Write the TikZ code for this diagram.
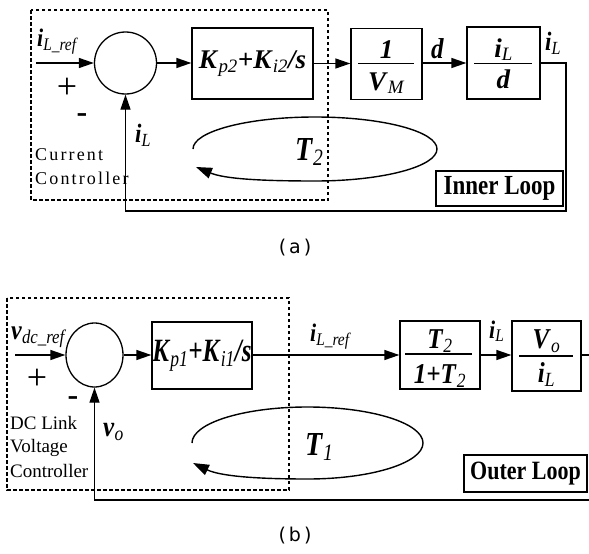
\documentclass[tikz,border=0pt]{standalone}
\usepackage{graphicx}
\usepackage{fontspec}
\setmainfont{Liberation Serif}
\newfontfamily\capfont{DejaVu Sans}
\newfontfamily\lsfont[LetterSpace=12]{Liberation Serif}
\usetikzlibrary{arrows.meta,shapes.geometric}

\newcommand\bi[1]{\textbf{\textit{#1}}}
\newcommand\sbt[1]{\textsubscript{\textit{#1}}}
\newcommand\fs[1]{\fontsize{#1}{#1}\selectfont}
\newcommand\vst[2][1.15]{\scalebox{1}[#1]{#2}}

\tikzset{
  blk/.style={draw, line width=1.3pt, inner sep=0pt},
  conn/.style={line width=1.3pt, -{Triangle[length=15pt,width=10pt]}},
  wire/.style={line width=1.3pt},
  loopw/.style={line width=1.4pt, -{Triangle[length=16pt,width=11pt]}},
  ctrl/.style={draw, line width=1.8pt, dash pattern=on 3.5pt off 2.5pt},
  lbl/.style={inner sep=0pt},
  sumc/.style={draw, circle, line width=1.3pt, inner sep=0pt},
  sume/.style={draw, ellipse, line width=1.3pt, inner sep=0pt},
}

\begin{document}
\begin{tikzpicture}[x=1pt,y=-1pt]
\useasboundingbox (0,0) rectangle (589,554);

% ---------------- (a) ----------------
\draw[ctrl] (31,10) rectangle (328,200);
\node[sumc, minimum size=62pt] (s1) at (125.5,63) {};
\coordinate (in1) at (36,63);
\node[blk, minimum width=121pt, minimum height=71pt] (k2) at (252.5,63.5) {};
\node[lbl] (k2t) at (252.5,64) {\fs{27}\bi{K}\sbt{p2}\bi{+K}\sbt{i2}\bi{/s}};
\node[blk, minimum width=71pt, minimum height=71pt] (vm) at (386.5,64) {};
\node[blk, minimum width=73pt, minimum height=72pt] (ild) at (503.5,63) {};
\coordinate (vmbl) at (358,63.5); \coordinate (vmbr) at (414,63.5);
\draw[wire] (vmbl) -- (vmbr);
\node[lbl, anchor=base] (vmn) at (386.5,58) {\fs{27}\bi{1}};
\node[lbl, anchor=base] (vmd) at (386.5,90) {\fs{27}\bi{V}\sbt{M}};
\coordinate (ilbl) at (474,63.5); \coordinate (ilbr) at (532,63.5);
\draw[wire] (ilbl) -- (ilbr);
\node[lbl, anchor=base] (ildn) at (503.5,57) {\fs{27}\bi{i}\sbt{L}};
\node[lbl, anchor=base] (ildd) at (503.5,88) {\fs{27}\bi{d}};

\coordinate (o1) at (566,63);
\coordinate (f1) at (566,211);
\draw[conn] (in1) -- (s1.west);
\draw[conn] (s1.east) -- (k2.west |- s1.east);
\draw[conn] (k2.east) -- (k2.east -| vm.west);
\draw[conn] (vm.east |- ild.east) -- (ild.west);
\draw[conn] (ild.east) -- (o1) -- (f1) -| (s1.south);

\node[lbl, anchor=base west] (iref1) at (37,46) {\fs{22}\vst{\bi{i}\sbt{L\_ref}}};
\node[lbl] (p1) at (67,88) {\fs{36}+};
\node[lbl] (m1) at (82,118) {\fs{32}\textbf{-}};
\node[lbl, anchor=base west] (ifb1) at (135,142) {\fs{23}\vst{\bi{i}\sbt{L}}};
\node[lbl, anchor=base west] (iout1) at (545,50) {\fs{23}\vst{\bi{i}\sbt{L}}};
\node[lbl, anchor=base west] (d1) at (431,58) {\fs{25}\vst{\bi{d}}};
\node[lbl, anchor=base west] (cc1) at (35,160) {\lsfont\fs{18}Current};
\node[lbl, anchor=base west] (cc2) at (35,184) {\lsfont\fs{18}Controller};

\draw[loopw] (193,149) arc[start angle=180, end angle=450, x radius=122, y radius=32]
  .. controls (262,181) and (225,179) .. (196,167);
\node[lbl, anchor=base west] (t2) at (295,160) {\fs{28}\vst[1.2]{\bi{T}\sbt{2}}};
\node[draw, line width=1.3pt, inner sep=0pt, minimum width=127pt, minimum height=35pt] (inner) at (499.5,188.5) {\fs{23}\vst[1.2]{\textbf{Inner Loop}}};

\node[lbl] (capa) at (295,248) {\capfont\fs{19}(\hspace{3pt}a\hspace{3pt})};

% ---------------- (b) ----------------
\draw[ctrl] (7,298) rectangle (289,490);
\node[sume, minimum width=57pt, minimum height=64pt] (s2) at (94.5,355) {};
\coordinate (in2) at (15,355);
\node[blk, minimum width=100pt, minimum height=67pt] (k1) at (202,355.5) {};
\node[lbl] (k1t) at (202,356) {\fs{25}\vst[1.3]{\bi{K}\sbt{p1}\bi{+K}\sbt{i1}\bi{/s}}};
\node[blk, minimum width=80pt, minimum height=68pt] (tb) at (440,355) {};
\node[blk, minimum width=69pt, minimum height=70pt] (vo) at (546.5,356) {};
\coordinate (tbl) at (405,354); \coordinate (tbr) at (472,354);
\draw[wire] (tbl) -- (tbr);
\node[lbl, anchor=base] (tbn) at (440,348) {\fs{25}\vst[1.15]{\bi{T}\sbt{2}}};
\node[lbl, anchor=base] (tbd) at (440,383) {\fs{25}\vst[1.15]{\bi{1+T}\sbt{2}}};
\coordinate (vobl) at (519,356); \coordinate (vobr) at (573,356);
\draw[wire] (vobl) -- (vobr);
\node[lbl, anchor=base] (von) at (546.5,348) {\fs{25}\vst[1.15]{\bi{V}\sbt{o}}};
\node[lbl, anchor=base] (vod) at (546.5,382) {\fs{25}\vst[1.15]{\bi{i}\sbt{L}}};

\coordinate (out2) at (589,355);
\coordinate (fb2) at (589,500);
\draw[conn] (in2) -- (s2.west);
\draw[conn] (s2.east) -- (k1.west |- s2.east);
\draw[conn] (k1.east |- s2.east) -- (tb.west |- s2.east);
\draw[conn] (tb.east |- s2.east) -- (vo.west |- s2.east);
\draw[wire] (vo.east |- out2) -- (out2);
\draw[conn] (fb2) -| (s2.south);

\node[lbl, anchor=base west] (vref) at (11,339) {\fs{24}\vst{\bi{v}\sbt{dc\_ref}}};
\node[lbl] (p2) at (37,379) {\fs{36}+};
\node[lbl] (m2) at (73,401) {\fs{32}\textbf{-}};
\node[lbl, anchor=base west] (vo2) at (103,436) {\fs{25}\vst{\bi{v}\sbt{o}}};
\node[lbl, anchor=base west] (iref2) at (310,341) {\fs{22}\vst{\bi{i}\sbt{L\_ref}}};
\node[lbl, anchor=base west] (il2) at (489,338) {\fs{22}\vst{\bi{i}\sbt{L}}};
\node[lbl, anchor=base west] (dc1) at (10,429) {\fs{19}DC Link};
\node[lbl, anchor=base west] (dc2) at (10,452) {\fs{19}Voltage};
\node[lbl, anchor=base west] (dc3) at (10,477) {\fs{19}Controller};

\draw[loopw] (192,443) arc[start angle=180, end angle=450, x radius=115.5, y radius=36]
  .. controls (255,479) and (220,476) .. (193,463);
\node[lbl, anchor=base west] (t1) at (305,455) {\fs{28}\vst[1.2]{\bi{T}\sbt{1}}};
\node[draw, line width=1.3pt, inner sep=0pt, minimum width=123pt, minimum height=37pt] (outer) at (525.5,473.5) {\fs{22}\vst[1.2]{\textbf{Outer Loop}}};

\node[lbl] (capb) at (295,536) {\capfont\fs{19}(\hspace{3pt}b\hspace{3pt})};
\end{tikzpicture}
\end{document}
